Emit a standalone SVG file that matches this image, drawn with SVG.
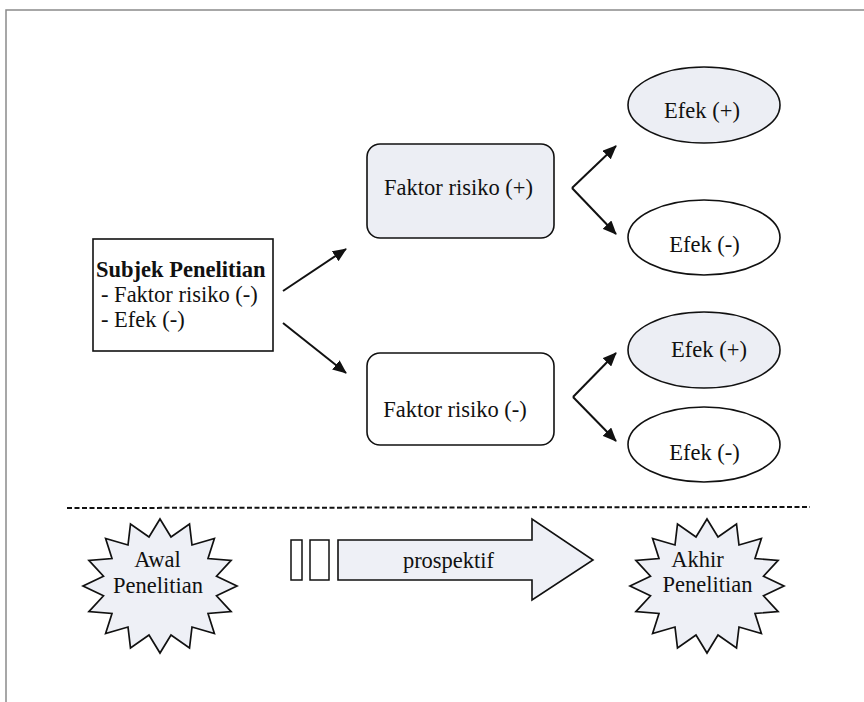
<svg xmlns="http://www.w3.org/2000/svg" width="864" height="702" viewBox="0 0 864 702">
<style>
text{font-family:"Liberation Serif","Times New Roman",serif;font-size:22.5px;fill:#111}
.m{text-anchor:middle}
.b{font-weight:bold}
.box{stroke:#111;stroke-width:1.6}
.pos{fill:#eceef4}
.neg{fill:#fff}
.con{stroke:#111;stroke-width:2;fill:none;marker-end:url(#ah)}
.frame{stroke:#8a8a8a;stroke-width:1.5;fill:none}
</style>
<defs>
<marker id="ah" markerUnits="userSpaceOnUse" markerWidth="14" markerHeight="12" refX="13" refY="6" orient="auto">
<path d="M0,0 L14,6 L0,12 Z" fill="#111"/>
</marker>
<path id="star" d="M0,-67 L11,-49 L29.5,-62 L32,-41 L54.4,-47.5 L48,-27.5 L71.1,-25.6 L56.5,-9.7 L77,0 L56.5,9.7 L71.1,25.6 L48,27.5 L54.4,47.5 L32,41 L29.5,62 L11,49 L0,67 L-11,49 L-29.5,62 L-32,41 L-54.4,47.5 L-48,27.5 L-71.1,25.6 L-56.5,9.7 L-77,0 L-56.5,-9.7 L-71.1,-25.6 L-48,-27.5 L-54.4,-47.5 L-32,-41 L-29.5,-62 L-11,-49 Z"/>
</defs>
<rect width="864" height="702" fill="#fff"/>
<path class="frame" d="M6,702 L6,10 L864,10"/>

<g id="subjek">
<rect class="box neg" x="93" y="239" width="180" height="112"/>
<text class="b" x="96" y="277">Subjek Penelitian</text>
<text x="101" y="302">- Faktor risiko (-)</text>
<text x="101" y="327">- Efek (-)</text>
</g>

<g id="faktor-pos">
<rect class="box pos" x="367" y="144" width="187" height="94" rx="13"/>
<text class="m" x="458.5" y="195">Faktor risiko (+)</text>
</g>

<g id="faktor-neg">
<rect class="box neg" x="367" y="353" width="187" height="92" rx="13"/>
<text class="m" x="455" y="417">Faktor risiko (-)</text>
</g>

<g id="efek-pos-1">
<ellipse class="box pos" cx="704" cy="105" rx="76" ry="38"/>
<text class="m" x="702" y="118">Efek (+)</text>
</g>
<g id="efek-neg-1">
<ellipse class="box neg" cx="704" cy="237.5" rx="76" ry="37.5"/>
<text class="m" x="704.5" y="252">Efek (-)</text>
</g>
<g id="efek-pos-2">
<ellipse class="box pos" cx="704" cy="350" rx="76" ry="38"/>
<text class="m" x="709" y="357">Efek (+)</text>
</g>
<g id="efek-neg-2">
<ellipse class="box neg" cx="704" cy="444.5" rx="76" ry="37.5"/>
<text class="m" x="704.5" y="460">Efek (-)</text>
</g>

<g id="connectors">
<line class="con" x1="283" y1="291" x2="346" y2="249"/>
<line class="con" x1="283" y1="323" x2="346" y2="373"/>
<path class="con" d="M572,188 L616,146"/>
<path class="con" d="M572,188 L616,234"/>
<path class="con" d="M573,397 L616,353"/>
<path class="con" d="M573,397 L616,441"/>
</g>

<line x1="67" y1="508" x2="810" y2="507" stroke="#111" stroke-width="2" stroke-dasharray="5,2.5"/>

<g id="awal">
<use href="#star" transform="translate(160,586)" fill="#eef0f6" stroke="#111" stroke-width="1.7"/>
<text class="m" x="157.5" y="567">Awal</text>
<text class="m" x="158" y="593">Penelitian</text>
</g>

<g id="prospektif">
<rect x="291" y="540" width="11" height="40" fill="#fff" stroke="#111" stroke-width="1.5"/>
<rect x="310" y="540" width="19" height="40" fill="#fff" stroke="#111" stroke-width="1.5"/>
<path d="M338,540 L532,540 L532,519 L593,560 L532,600 L532,580 L338,580 Z" fill="#eef0f6" stroke="#111" stroke-width="1.6"/>
<text class="m" x="448.5" y="568">prospektif</text>
</g>

<g id="akhir">
<use href="#star" transform="translate(707,586)" fill="#eef0f6" stroke="#111" stroke-width="1.7"/>
<text class="m" x="697.5" y="567">Akhir</text>
<text class="m" x="707.5" y="592">Penelitian</text>
</g>
</svg>
